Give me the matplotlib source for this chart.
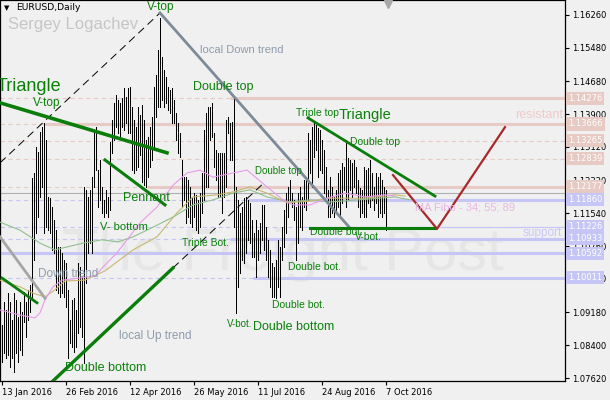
import numpy as np
import matplotlib
matplotlib.use('Agg')
import matplotlib.pyplot as plt
import matplotlib.transforms as mtransforms

# EURUSD daily bars, 13 Jan 2016 .. 7 Oct 2016 (one bar per business day)
highs = [1.0888, 1.0943, 1.0924, 1.0964, 1.0943, 1.0900, 1.0964, 1.0948, 1.0907, 1.0943,
         1.0919, 1.0967, 1.0943, 1.0972, 1.0983, 1.1238, 1.1250, 1.1312, 1.1300, 1.1348,
         1.1359, 1.1369, 1.1328, 1.1193, 1.1190, 1.1169, 1.1138, 1.1114, 1.1074, 1.1074,
         1.1060, 1.1043, 1.1036, 1.0972, 1.0900, 1.0948, 1.0952, 1.0924, 1.1036, 1.1026,
         1.1002, 1.1217, 1.1210, 1.1193, 1.1210, 1.1240, 1.1345, 1.1359, 1.1257, 1.1281,
         1.1217, 1.1186, 1.1210, 1.1193, 1.1324, 1.1376, 1.1417, 1.1436, 1.1424, 1.1417,
         1.1428, 1.1452, 1.1431, 1.1452, 1.1455, 1.1407, 1.1376, 1.1359, 1.1407, 1.1388,
         1.1412, 1.1376, 1.1328, 1.1336, 1.1359, 1.1383, 1.1455, 1.1483, 1.1543, 1.1619,
         1.1526, 1.1495, 1.1478, 1.1455, 1.1448, 1.1452, 1.1424, 1.1393, 1.1369, 1.1345,
         1.1281, 1.1240, 1.1240, 1.1233, 1.1217, 1.1193, 1.1202, 1.1198, 1.1186, 1.1202,
         1.1250, 1.1352, 1.1393, 1.1407, 1.1407, 1.1417, 1.1345, 1.1305, 1.1298, 1.1298,
         1.1298, 1.1298, 1.1376, 1.1383, 1.1369, 1.1371, 1.1431, 1.1217, 1.1186, 1.1155,
         1.1169, 1.1190, 1.1193, 1.1186, 1.1179, 1.1138, 1.1107, 1.1138, 1.1114, 1.1131,
         1.1174, 1.1174, 1.1121, 1.1091, 1.1067, 1.1036, 1.1026, 1.1043, 1.1091, 1.1074,
         1.1121, 1.1162, 1.1202, 1.1217, 1.1233, 1.1202, 1.1186, 1.1169, 1.1202, 1.1217,
         1.1193, 1.1233, 1.1233, 1.1345, 1.1328, 1.1359, 1.1369, 1.1364, 1.1357, 1.1352,
         1.1328, 1.1305, 1.1264, 1.1210, 1.1240, 1.1217, 1.1193, 1.1210, 1.1250, 1.1257,
         1.1274, 1.1264, 1.1328, 1.1286, 1.1281, 1.1274, 1.1281, 1.1264, 1.1233, 1.1214,
         1.1210, 1.1264, 1.1257, 1.1262, 1.1281, 1.1250, 1.1217, 1.1250, 1.1240, 1.1250,
         1.1233, 1.1217, 1.1210]
lows = [1.0800, 1.0822, 1.0810, 1.0817, 1.0788, 1.0810, 1.0776, 1.0822, 1.0800, 1.0829,
        1.0817, 1.0895, 1.0860, 1.0900, 1.0919, 1.0948, 1.1043, 1.1107, 1.1145, 1.1193,
        1.1217, 1.1107, 1.1121, 1.1114, 1.1107, 1.1067, 1.1060, 1.0972, 1.0964, 1.0955,
        1.0964, 1.0955, 1.0931, 1.0810, 1.0845, 1.0836, 1.0824, 1.0836, 1.0869, 1.0883,
        1.0860, 1.0798, 1.0988, 1.1060, 1.1083, 1.1060, 1.1217, 1.1257, 1.1169, 1.1186,
        1.1155, 1.1145, 1.1155, 1.1145, 1.1162, 1.1298, 1.1328, 1.1359, 1.1345, 1.1336,
        1.1359, 1.1352, 1.1369, 1.1345, 1.1345, 1.1257, 1.1250, 1.1257, 1.1264, 1.1293,
        1.1229, 1.1221, 1.1217, 1.1240, 1.1264, 1.1281, 1.1305, 1.1383, 1.1407, 1.1407,
        1.1424, 1.1407, 1.1417, 1.1400, 1.1393, 1.1369, 1.1369, 1.1328, 1.1298, 1.1288,
        1.1169, 1.1186, 1.1131, 1.1145, 1.1131, 1.1121, 1.1145, 1.1114, 1.1107, 1.1121,
        1.1155, 1.1186, 1.1217, 1.1217, 1.1328, 1.1336, 1.1264, 1.1233, 1.1193, 1.1193,
        1.1155, 1.1193, 1.1217, 1.1345, 1.1281, 1.1281, 1.1121, 1.0917, 1.0979, 1.1012,
        1.1043, 1.1036, 1.1060, 1.1091, 1.1083, 1.1050, 1.1050, 1.1002, 1.1043, 1.1060,
        1.1091, 1.1067, 1.1043, 1.1002, 1.0979, 1.0955, 1.0955, 1.0952, 1.0979, 1.0955,
        1.1043, 1.1074, 1.1107, 1.1145, 1.1186, 1.1169, 1.1138, 1.1043, 1.1083, 1.1121,
        1.1114, 1.1169, 1.1162, 1.1186, 1.1250, 1.1217, 1.1288, 1.1305, 1.1240, 1.1257,
        1.1250, 1.1202, 1.1193, 1.1145, 1.1145, 1.1155, 1.1145, 1.1155, 1.1169, 1.1145,
        1.1179, 1.1210, 1.1169, 1.1186, 1.1210, 1.1193, 1.1217, 1.1202, 1.1169, 1.1145,
        1.1155, 1.1145, 1.1145, 1.1179, 1.1169, 1.1186, 1.1162, 1.1179, 1.1145, 1.1155,
        1.1145, 1.1155, 1.1114]

date_ticks = [0, 32, 64, 96, 128, 160, 192]
date_labels = ['13 Jan 2016', '26 Feb 2016', '12 Apr 2016', '26 May 2016',
               '11 Jul 2016', '24 Aug 2016', '7 Oct 2016']
price_ticks = [1.0762, 1.0840, 1.0918, 1.0998, 1.1076, 1.1154, 1.1232, 1.1312, 1.1390,
               1.1468, 1.1548, 1.1626]

# moving averages (34 / 55 / 89), read at a few bars, shifted forward
ma34_x = [-1, 9, 16.5, 19, 21.5, 25.5, 30, 39, 46.5, 50.5, 57.5, 69, 77.5, 85.5, 92.5, 99,
          105.5, 115.5, 122.5, 125.5, 132.5, 140.5, 145.5, 154, 162.5, 171.5, 181.5, 191.5, 196.5]
ma34_y = [1.0924, 1.0912, 1.0905, 1.0917, 1.0948, 1.0979, 1.0995, 1.1000, 1.1005, 1.1026,
          1.1060, 1.1131, 1.1169, 1.1221, 1.1250, 1.1257, 1.1240, 1.1250, 1.1257, 1.1245,
          1.1217, 1.1186, 1.1174, 1.1174, 1.1190, 1.1202, 1.1193, 1.1198, 1.1195]
ma55_x = [-1, 9, 15.5, 21.5, 26.5, 31.5, 41.5, 51.5, 65.5, 77.5, 87.5, 95.5, 107.5, 115.5,
          124, 132.5, 142.5, 154, 162.5, 181.5, 196.5, 201.5]
ma55_y = [1.0995, 1.0979, 1.0964, 1.0955, 1.0972, 1.0993, 1.0995, 1.1017, 1.1067, 1.1098,
          1.1155, 1.1193, 1.1198, 1.1205, 1.1217, 1.1202, 1.1179, 1.1183, 1.1190, 1.1190,
          1.1198, 1.1195]
ma89_x = [-1, 9, 19, 26.5, 32.5, 40.5, 50, 58, 65.5, 75.5, 85.5, 95.5, 105.5, 115.5, 124,
          132.5, 144, 154, 164, 178, 196.5, 204]
ma89_y = [1.1133, 1.1114, 1.1083, 1.1067, 1.1074, 1.1083, 1.1091, 1.1086, 1.1098, 1.1121,
          1.1145, 1.1174, 1.1186, 1.1202, 1.1210, 1.1193, 1.1181, 1.1186, 1.1181, 1.1186,
          1.1193, 1.1186]

# horizontal levels: price, colour kind, bar where the solid part starts (None = dashed only)
level_prices = [1.14276, 1.13666, 1.13265, 1.12839, 1.12177,
                1.11860, 1.11226, 1.10933, 1.10592, 1.10011]
level_kind = ['r', 'r', 'r', 'r', 'r', 'b', 'b', 'b', 'b', 'b']
level_solid_from = [114, 20.5, None, None, 72.5, 122.5, 149, 114, -1, 125.5]
level_solid_lw = [2.2, 2.2, 2.2, 2.2, 2.2, 2.2, 0.9, 2.2, 2.2, 2.2]
last_price = 1.1202

BG = '#F0F0F0'
PINK = '#E6CAC3'
LAV = '#C6C6F6'
GREEN = '#0A800A'
SLATE = '#7D8B99'
TXTGRAY = '#8E9CAE'

fig = plt.figure(figsize=(6.1, 4.0), dpi=100, facecolor=BG)
ax = fig.add_axes([0, 19 / 400, 565 / 610, 381 / 400])
ax.set_facecolor(BG)
XMIN, XMAX = -1, 281.5
ax.set_xlim(XMIN, XMAX)
ax.set_ylim(1.07549, 1.16617)

idx = np.arange(len(highs))
ax.vlines(idx, lows, highs, color='black', linewidth=0.5, antialiased=False, zorder=3)

# levels
for p, k, s, lw in zip(level_prices, level_kind, level_solid_from, level_solid_lw):
    c = PINK if k == 'r' else LAV
    if s is None:
        ax.plot([XMIN, XMAX], [p, p], color=c, lw=0.8, ls=(0, (4, 3)), zorder=1)
    else:
        if s > XMIN:
            ax.plot([XMIN, s], [p, p], color=c, lw=0.8, ls=(0, (4, 3)), zorder=1)
        ax.plot([s, XMAX], [p, p], color=c, lw=lw, solid_capstyle='butt', zorder=1)
ax.axhline(last_price, color='#B0B0B0', lw=0.8, zorder=1)

# moving averages
ax.plot(ma89_x, ma89_y, color='#8FBF8F', lw=0.8, zorder=4)
ax.plot(ma55_x, ma55_y, color='#C8B870', lw=0.8, zorder=4)
ax.plot(ma34_x, ma34_y, color='#E89AE8', lw=0.8, zorder=4)

# trend lines / figures
ax.plot([-1, 79], [1.1274, 1.1631], color='black', lw=0.7, ls=(0, (8, 5)), zorder=5)
ax.plot([85.5, 131.5], [1.1024, 1.1229], color='black', lw=0.7, ls=(0, (8, 5)), zorder=5)
ax.plot([25.5, 85.5], [1.0755, 1.1024], color='#0B7D0B', lw=2.4, zorder=5)
ax.plot([79, 174], [1.1631, 1.1119], color=SLATE, lw=2.0, zorder=5)
ax.plot([-1, 21.5], [1.1098, 1.0952], color='#A6A6A6', lw=2.0, zorder=5)
ax.plot([-1, 82.5], [1.1417, 1.1298], color='#0B7D0B', lw=2.6, zorder=5)
ax.plot([0, 17.5], [1.1000, 1.0941], color='#0B7D0B', lw=2.0, zorder=5)
ax.plot([51.5, 81.5], [1.1281, 1.1174], color='#0B7D0B', lw=2.2, zorder=5)
ax.plot([153, 216.5], [1.1381, 1.1195], color='#0B7D0B', lw=2.0, zorder=5)
ax.plot([154, 216.5], [1.1119, 1.1119], color='#0B7D0B', lw=2.2, zorder=5)
ax.plot([195.5, 217.5, 251.5], [1.1245, 1.1117, 1.1359], color='#A52A2A', lw=1.6, zorder=5)

# watermark
ax.text(140.5, 1.1055, 'The Freight Post', fontsize=43, color='#E6E6E6', family='Liberation Sans',
        ha='center', va='center', zorder=0.5)

notes = [
    ('V-top', 72.5, 1.1645, 8.5, GREEN),
    ('local Down trend', 99, 1.1543, 8, TXTGRAY),
    ('Triangle', -2.5, 1.1457, 13, GREEN),
    ('V-top', 15.5, 1.1417, 8.5, GREEN),
    ('Double top', 95.5, 1.1455, 9, GREEN),
    ('Triple top', 147, 1.1393, 7.5, GREEN),
    ('Triangle', 168.5, 1.1388, 10.5, GREEN),
    ('resistant', 256.5, 1.1388, 9, '#EFCACA'),
    ('Double top', 174, 1.1324, 7.5, GREEN),
    ('Double top', 126.5, 1.1255, 7, GREEN),
    ('Pennant', 60.5, 1.1190, 9, GREEN),
    ('MA Fibo - 34; 55; 89', 206.5, 1.1167, 8, '#E8B6E2'),
    ('V- bottom', 49, 1.1121, 8, GREEN),
    ('Triple Bot.', 90, 1.1083, 7.5, GREEN),
    ('Double bot.', 154, 1.1109, 7.5, GREEN),
    ('V-bot.', 176.5, 1.1098, 7.5, GREEN),
    ('support', 260.5, 1.1107, 8.5, '#C8C8F6'),
    ('Down trend', 18, 1.1010, 8.5, TXTGRAY),
    ('Double bot.', 143, 1.1026, 7.5, GREEN),
    ('Double bot.', 135, 1.0936, 7.5, GREEN),
    ('V-bot.', 112.5, 1.0891, 7, GREEN),
    ('Double bottom', 125.5, 1.0883, 9, GREEN),
    ('local Up trend', 58.5, 1.0862, 8.5, TXTGRAY),
    ('Double bottom', 31.5, 1.0786, 9, GREEN),
]
for txt, x, y, fs, c in notes:
    ax.text(x, y, txt, fontsize=fs, color=c, family='Liberation Sans',
            ha='left', va='center', zorder=6)

# chart shift marker
ax.plot([193], [1.1652], marker='v', color='#A8A8A8', markersize=6, clip_on=False, zorder=7)

# axes
for sp in ax.spines.values():
    sp.set_color('black')
    sp.set_linewidth(0.9)
ax.yaxis.tick_right()
ax.set_yticks(price_ticks)
ax.set_yticklabels(['%.5f' % v for v in [1.07620, 1.08400, 1.09180, 1.09980, 1.10760, 1.11540,
                                           1.12320, 1.13120, 1.13900, 1.14680, 1.15480, 1.16260]])
ax.set_xticks(date_ticks)
ax.set_xticklabels(date_labels, ha='left')
ax.tick_params(axis='both', direction='out', length=3, width=0.8, colors='black',
               labelsize=6, pad=2)
for lab in ax.get_xticklabels() + ax.get_yticklabels():
    lab.set_family('DejaVu Sans')

trans = mtransforms.blended_transform_factory(ax.transAxes, ax.transData)
for p, k in zip(level_prices, level_kind):
    ax.text(1.005, p, '%.5f' % p, transform=trans, fontsize=6, family='DejaVu Sans',
            color='white', ha='left', va='center', clip_on=False, zorder=20,
            bbox=dict(boxstyle='square,pad=0.25', fc=PINK if k == 'r' else LAV, ec='none'))

fig.text(4 / 610, 1 - 8 / 400, '\u25bc', fontsize=5, color='black', va='center')
fig.text(16 / 610, 1 - 8 / 400, 'EURUSD,Daily', fontsize=6.7, color='black',
         family='DejaVu Sans', va='center')
fig.text(8 / 610, 1 - 24 / 400, 'Sergey Logachev', fontsize=12, color='#C6C6C6',
         family='Liberation Sans', va='center')

fig.savefig('out.png', dpi=100, facecolor=BG)
